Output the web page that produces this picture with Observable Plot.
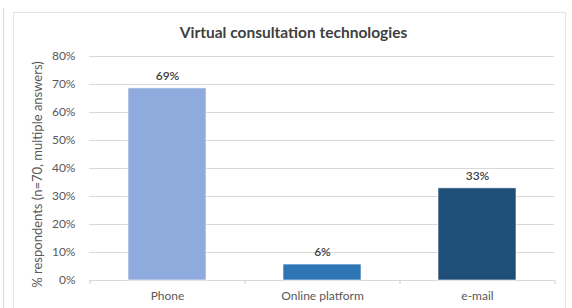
<!DOCTYPE html>
<html>
<head>
<meta charset="utf-8">
<script src="https://cdn.jsdelivr.net/npm/d3@7"></script>
<script src="https://cdn.jsdelivr.net/npm/@observablehq/plot@0.6"></script>
<style>
  html, body { margin: 0; padding: 0; background: #fff; }
  #wrap { position: relative; width: 572px; height: 308px; overflow: hidden; }
  #outer { position: absolute; left: 3px; top: 8px; width: 0; height: 320px; border-left: 1px solid #d9d9d9; }
  #frame { position: absolute; left: 13px; top: 12px; width: 553px; height: 320px; border: 1px solid #e3e3e3; box-sizing: border-box; }
  #chart { position: absolute; left: 0; top: 0; }
</style>
</head>
<body>
<div id="wrap">
  <div id="outer"></div>
  <div id="frame"></div>
  <div id="chart"></div>
</div>
<script>
const categories = ["Phone", "Online platform", "e-mail"];
const values = [0.686, 0.057, 0.329];
const labels = ["69%", "6%", "33%"];
const colors = ["#8faadc", "#2e75b6", "#1f4e79"];
const yTicks = [0, 0.1, 0.2, 0.3, 0.4, 0.5, 0.6, 0.7, 0.8];
const title = "Virtual consultation technologies";
const yTitle = "% respondents (n=70, multiple answers)";

const data = categories.map((c, i) => ({category: c, value: values[i], label: labels[i], color: colors[i]}));

const W = 572, H = 308, mL = 89, mR = 18, mT = 56, mB = 28;
const plotH = H - mT - mB;
const bw = (W - mL - mR) / categories.length;

const chart = Plot.plot({
  width: W,
  height: H,
  marginLeft: mL,
  marginRight: mR,
  marginTop: mT,
  marginBottom: mB,
  style: {fontFamily: "Lato, 'Open Sans', sans-serif", background: "transparent"},
  x: {domain: categories, paddingInner: 0.5, paddingOuter: 0.25, label: null},
  y: {domain: [0, 0.8], label: null},
  marks: [
    Plot.gridY(yTicks, {stroke: "#d9d9d9", strokeOpacity: 1, strokeWidth: 1}),
    Plot.ruleX(categories, {x: d => d, dx: -bw / 2, stroke: "#cfcfcf", insetTop: plotH, insetBottom: -4}),
    Plot.ruleX(categories.slice(-1), {x: d => d, dx: bw / 2, stroke: "#cfcfcf", insetTop: plotH, insetBottom: -4}),
    Plot.barY(data, {x: "category", y: "value", fill: "color", stroke: "#ffffff", strokeWidth: 0.6}),
    Plot.axisY({ticks: yTicks, tickFormat: d3.format(".0%"), tickSize: 0, tickPadding: 14, fill: "#595959", fontSize: 12, label: null}),
    Plot.axisX({tickSize: 0, tickPadding: 11, fill: "#595959", fontSize: 12, label: null}),
    Plot.text(data, {x: "category", y: "value", text: "label", dy: -12, fill: "#404040", fontSize: 12, fontWeight: 600}),
    Plot.text([title], {frameAnchor: "top", dy: -30, dx: 293 - (mL + (W - mL - mR) / 2), fill: "#404040", fontSize: 15.5, fontWeight: "bold"}),
    Plot.text([yTitle], {frameAnchor: "left", textAnchor: "middle", dx: -52, dy: 6, rotate: -90, fill: "#595959", fontSize: 13})
  ]
});
document.getElementById("chart").appendChild(chart);
</script>
</body>
</html>
